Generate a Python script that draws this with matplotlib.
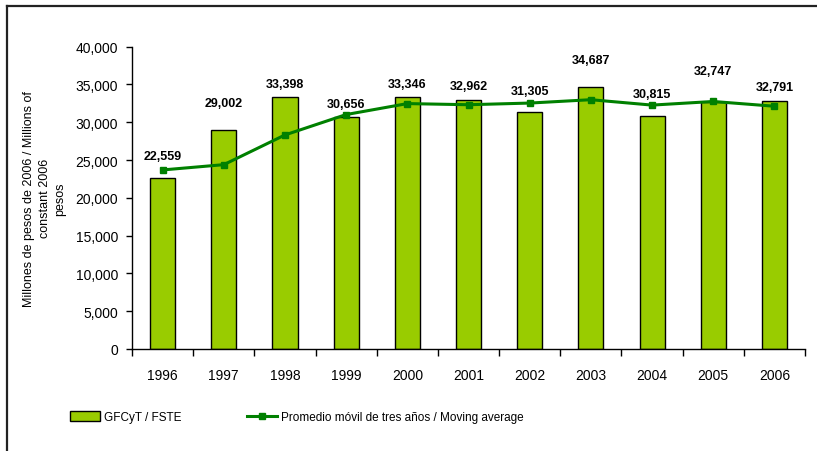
import matplotlib.pyplot as plt
from matplotlib.ticker import FuncFormatter, FixedLocator
from matplotlib.lines import Line2D
import numpy as np

plt.rcParams['font.family'] = ['Liberation Sans', 'DejaVu Sans']

# data
years = ['1996', '1997', '1998', '1999', '2000', '2001', '2002', '2003', '2004', '2005', '2006']
gfcyt = [22559, 29002, 33398, 30656, 33346, 32962, 31305, 34687, 30815, 32747, 32791]
moving_avg = [23690, 24390, 28320, 31020, 32470, 32320, 32540, 32985, 32270, 32750, 32120]

# label placement above bar tops (pixels), tweaked by hand as in the original
label_dy = [22, 27, 13, 13, 13, 14, 21, 27, 22, 31, 14]

bar_color = '#99CC00'
line_color = '#008000'

fig = plt.figure(figsize=(8.17, 4.52), dpi=100)
ax = fig.add_axes([0.1616, 0.2257, 0.8237, 0.6688])

x = np.arange(len(years))
bars = ax.bar(x, gfcyt, width=0.41, color=bar_color, edgecolor='black', linewidth=1,
              label='GFCyT / FSTE', zorder=2)
ax.plot(x, moving_avg, color=line_color, lw=2.2, marker='s', markersize=5,
        label='Promedio móvil de tres años / Moving average', zorder=3)

for xi, v, dy in zip(x, gfcyt, label_dy):
    ax.annotate(f'{v:,}', (xi, v), xytext=(0, dy), textcoords='offset pixels',
                ha='center', va='center', fontsize=9, fontweight='bold')

ax.set_xlim(-0.5, len(years) - 0.5)
ax.set_ylim(0, 40000)
ax.set_yticks(range(0, 40001, 5000))
ax.yaxis.set_major_formatter(FuncFormatter(lambda v, p: f'{int(v):,}'))
ax.tick_params(axis='y', direction='out', length=4, width=1, pad=6, labelsize=10)

# ticks at category boundaries, labels at centers
ax.xaxis.set_major_locator(FixedLocator(np.arange(-0.5, len(years), 1.0)))
ax.xaxis.set_minor_locator(FixedLocator(x))
ax.set_xticklabels([], minor=False)
ax.set_xticklabels(years, minor=True)
ax.tick_params(axis='x', which='major', direction='out', length=5, width=1)
ax.tick_params(axis='x', which='minor', length=0, pad=14, labelsize=10)

for s in ['top', 'right']:
    ax.spines[s].set_visible(False)
for s in ['left', 'bottom']:
    ax.spines[s].set_linewidth(1)

ax.set_ylabel('Millones de pesos de 2006 / Millions of\nconstant 2006\npesos',
              fontsize=9, labelpad=7, linespacing=1.35)

handles = [bars, Line2D([], [], color=line_color, lw=2.2, marker='s', markersize=5)]
fig.legend(handles, ['GFCyT / FSTE', 'Promedio móvil de tres años / Moving average'],
           loc='center left', bbox_to_anchor=(70 / 817, 0.075), ncol=2, frameon=False,
           fontsize=8.5, handlelength=2.5, handleheight=0.85, handletextpad=0.35,
           columnspacing=5.6, borderpad=0, borderaxespad=0)

# outer frame (top and left edges visible)
fig.add_artist(Line2D([7 / 817, 1], [1 - 7 / 452, 1 - 7 / 452], color='#222222', lw=1.6,
                      transform=fig.transFigure))
fig.add_artist(Line2D([7 / 817, 7 / 817], [0, 1 - 7 / 452], color='#222222', lw=1.6,
                      transform=fig.transFigure))

fig.savefig('out.png', dpi=100)
